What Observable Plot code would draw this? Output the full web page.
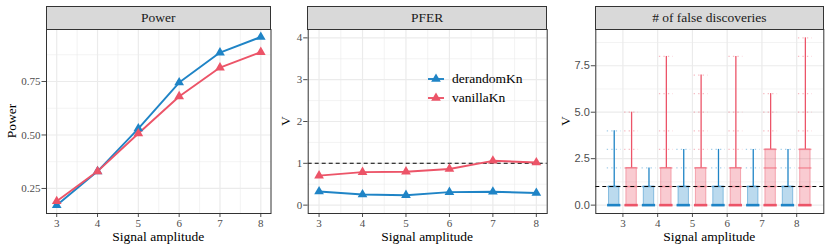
<!DOCTYPE html>
<html><head><meta charset="utf-8">
<script src="https://cdn.jsdelivr.net/npm/d3@7"></script>
<script src="https://cdn.jsdelivr.net/npm/@observablehq/plot@0.6"></script>
<style>
body{margin:0;background:#fff;}
#wrap{position:relative;width:830px;height:249px;overflow:hidden;font-family:'Liberation Serif','Tinos','Times New Roman','Nimbus Roman','DejaVu Serif',serif;}
.pn{position:absolute;top:0;}
.strip{position:absolute;box-sizing:border-box;border:1px solid #333;background:#D9D9D9;color:#1A1A1A;font-size:13.5px;text-align:center;}
.xt{position:absolute;font-size:13.5px;color:#000;text-align:center;white-space:nowrap;}
.yt{position:absolute;font-size:13.5px;color:#000;white-space:nowrap;transform:translate(-50%,-50%) rotate(-90deg);}
.leg{position:absolute;font-size:13.5px;color:#000;}
</style></head><body><div id="wrap"></div>
<script>
// ---------- data ----------
const amplitudes = [3, 4, 5, 6, 7, 8];
const methods = ["derandomKn", "vanillaKn"];
const panelTitles = ["Power", "PFER", "# of false discoveries"];
const xTitle = "Signal amplitude";
const yTitles = ["Power", "V", "V"];

const powerDerandom = [0.172, 0.33, 0.53, 0.745, 0.885, 0.958];
const powerVanilla  = [0.19, 0.33, 0.507, 0.68, 0.815, 0.887];
const pferDerandom  = [0.325, 0.254, 0.238, 0.31, 0.32, 0.29];
const pferVanilla   = [0.705, 0.79, 0.80, 0.865, 1.06, 1.02];
const pferTarget = 1;

// false discoveries: box summaries per amplitude
const fdQ1Derandom  = [0, 0, 0, 0, 0, 0];
const fdMedDerandom = [0, 0, 0, 0, 0, 0];
const fdQ3Derandom  = [1, 1, 1, 1, 1, 1];
const fdMaxDerandom = [4, 2, 3, 3, 3, 3];
const fdQ1Vanilla   = [0, 0, 0, 0, 0, 0];
const fdMedVanilla  = [0, 0, 0, 0, 0, 0];
const fdQ3Vanilla   = [2, 2, 2, 2, 3, 3];
const fdMaxVanilla  = [5, 8, 7, 8, 6, 9];
// observed values (points) per amplitude
const fdValuesDerandom = [[0,1,2,3,4],[0,1,2],[0,1,2,3],[0,1,2,3],[0,1,2,3],[0,1,2,3]];
const fdValuesVanilla  = [[0,1,2,3,4,5],[0,1,2,3,4,6,8],[0,1,2,3,4,5,6,7],[0,1,2,3,4,5,8],[0,1,2,3,4,5,6],[0,1,2,3,4,5,6,8,9]];

// ---------- layout ----------
const colors = ["#1F84C6", "#EC5468"];
const FONT = "'Liberation Serif','Tinos','Times New Roman','Nimbus Roman','DejaVu Serif',serif";
const SANS = "'Liberation Sans',Arial,sans-serif";
const TOP = 29, BOTTOM = 213, H = 249;
const wrap = document.getElementById("wrap");

function seriesRows(a, b) {
  const rows = [];
  amplitudes.forEach((x, i) => rows.push({x, y: a[i], m: methods[0]}));
  amplitudes.forEach((x, i) => rows.push({x, y: b[i], m: methods[1]}));
  return rows;
}

function makePanel(cfg) {
  const {svgLeft, svgWidth, pLeft, pRight, xDomain, yDomain, yMajor, yMinor, xMajor, xMinor, yFmt, marks, title, ytitle, ytitleX, ySans} = cfg;
  const chart = Plot.plot({
    width: svgWidth, height: H,
    marginLeft: pLeft - svgLeft, marginRight: svgLeft + svgWidth - pRight,
    marginTop: TOP, marginBottom: H - BOTTOM,
    style: {fontFamily: FONT, fontSize: "11px", color: "#4D4D4D", background: "transparent"},
    x: {domain: xDomain, ticks: amplitudes, tickFormat: d => String(d), tickSize: 4, tickPadding: 1.5, label: null},
    y: {domain: yDomain, ticks: yMajor, tickFormat: yFmt, tickSize: 4.5, tickPadding: 1.5, label: null},
    color: {domain: methods, range: colors},
    marks: [
      Plot.ruleY(yMinor, {stroke: "#EBEBEB", strokeWidth: 0.6}),
      Plot.ruleX(xMinor, {stroke: "#EBEBEB", strokeWidth: 0.6}),
      Plot.ruleY(yMajor, {stroke: "#EBEBEB", strokeWidth: 1.2}),
      Plot.ruleX(xMajor, {stroke: "#EBEBEB", strokeWidth: 1.2}),
      ...marks,
      Plot.frame({stroke: "#333333", strokeWidth: 1})
    ]
  });
  d3.select(chart).selectAll("text").attr("font-family", FONT);
  if (ySans) {
    d3.select(chart).selectAll('g[aria-label^="y-axis"] text').attr("font-family", SANS).attr("font-size", "11px");
  }
  const d = document.createElement("div");
  d.className = "pn"; d.style.left = svgLeft + "px"; d.style.width = svgWidth + "px";
  d.appendChild(chart);
  wrap.appendChild(d);
  // strip
  const s = document.createElement("div");
  s.className = "strip";
  s.style.left = (pLeft - 0.5) + "px"; s.style.top = "6px";
  s.style.width = (pRight - pLeft + 1) + "px"; s.style.height = (TOP - 6 + 1) + "px";
  s.style.lineHeight = (TOP - 6 - 1) + "px";
  s.textContent = title;
  wrap.appendChild(s);
  // x title
  const xt = document.createElement("div");
  xt.className = "xt"; xt.textContent = xTitle;
  xt.style.left = pLeft + "px"; xt.style.width = (pRight - pLeft) + "px"; xt.style.top = "229px";
  wrap.appendChild(xt);
  // y title
  const yt = document.createElement("div");
  yt.className = "yt"; yt.textContent = ytitle;
  yt.style.left = ytitleX + "px"; yt.style.top = ((TOP + BOTTOM) / 2) + "px";
  wrap.appendChild(yt);
}

const xMinorCont = [3.5, 4.5, 5.5, 6.5, 7.5];

function lineMarks(rows) {
  return [
    Plot.line(rows, {x: "x", y: "y", stroke: "m", z: "m", strokeWidth: 1.9}),
    Plot.dot(rows, {x: "x", y: "y", fill: "m", symbol: "triangle", r: 3.6, stroke: "none"})
  ];
}

// Panel 1: Power
makePanel({
  svgLeft: 0, svgWidth: 285, pLeft: 46, pRight: 270.5,
  xDomain: [2.75, 8.25], yDomain: [0.133, 0.993],
  yMajor: [0.25, 0.5, 0.75], yMinor: [0.375, 0.625, 0.875],
  xMajor: amplitudes, xMinor: xMinorCont, yFmt: d3.format(".2f"),
  marks: lineMarks(seriesRows(powerDerandom, powerVanilla)),
  title: panelTitles[0], ytitle: yTitles[0], ytitleX: 12
});

// Panel 2: PFER
makePanel({
  svgLeft: 285, svgWidth: 275, pLeft: 307.7, pRight: 546.7,
  xDomain: [2.75, 8.25], yDomain: [-0.2, 4.2],
  yMajor: [0, 1, 2, 3, 4], yMinor: [0.5, 1.5, 2.5, 3.5],
  xMajor: amplitudes, xMinor: xMinorCont, yFmt: d => String(d),
  marks: [
    Plot.ruleY([pferTarget], {stroke: "#000", strokeWidth: 1.1, strokeDasharray: "4,3"}),
    ...lineMarks(seriesRows(pferDerandom, pferVanilla))
  ],
  title: panelTitles[1], ytitle: yTitles[1], ytitleX: 286
});

// Panel 3: boxplots
const DODGE = 0.25, HALF = 0.15;
const boxes = [];
amplitudes.forEach((x, i) => {
  boxes.push({c: x - DODGE, m: methods[0], q1: fdQ1Derandom[i], med: fdMedDerandom[i], q3: fdQ3Derandom[i], max: fdMaxDerandom[i], vals: fdValuesDerandom[i]});
  boxes.push({c: x + DODGE, m: methods[1], q1: fdQ1Vanilla[i], med: fdMedVanilla[i], q3: fdQ3Vanilla[i], max: fdMaxVanilla[i], vals: fdValuesVanilla[i]});
});
const pts = boxes.flatMap(b => b.vals.map(v => ({c: b.c, m: b.m, v, inner: v <= b.q3})));

makePanel({
  svgLeft: 560, svgWidth: 270, pLeft: 595.3, pRight: 823.3,
  xDomain: [2.22, 8.78], yDomain: [-0.45, 9.45],
  yMajor: [0, 2.5, 5, 7.5], yMinor: [1.25, 3.75, 6.25, 8.75],
  xMajor: amplitudes, xMinor: [], yFmt: d3.format(".1f"), ySans: true,
  marks: [
    Plot.rect(boxes, {x1: d => d.c - HALF, x2: d => d.c + HALF, y1: "q1", y2: "q3", fill: "m", fillOpacity: 0.3, stroke: "m", strokeOpacity: 0.45, strokeWidth: 1}),
    Plot.ruleX(boxes, {x: "c", y1: "q3", y2: "max", stroke: "m", strokeWidth: 1.3}),
    Plot.ruleY(pts.filter(p => !p.inner), {y: "v", x1: d => d.c - 0.2, x2: d => d.c + 0.2, stroke: "m", strokeOpacity: 0.4, strokeWidth: 1.3, strokeDasharray: "1.3,3.2"}),
    Plot.ruleY(pts.filter(p => p.inner), {y: "v", x1: d => d.c - 0.19, x2: d => d.c + 0.19, stroke: "m", strokeOpacity: 0.55, strokeWidth: 1.4}),
    Plot.ruleY(boxes, {y: "med", x1: d => d.c - HALF - 0.04, x2: d => d.c + HALF + 0.04, stroke: "m", strokeWidth: 2.6}),
    Plot.ruleY([pferTarget], {stroke: "#000", strokeWidth: 1.1, strokeDasharray: "4,3"})
  ],
  title: panelTitles[2], ytitle: yTitles[2], ytitleX: 566
});

// legend inside PFER panel
methods.forEach((m, i) => {
  const y = 79 + i * 19;
  const sv = d3.create("svg").attr("width", 20).attr("height", 14)
    .style("position", "absolute").style("left", "427px").style("top", (y - 7) + "px");
  sv.append("line").attr("x1", 1).attr("x2", 17).attr("y1", 7).attr("y2", 7).attr("stroke", colors[i]).attr("stroke-width", 1.9);
  sv.append("path").attr("d", d3.symbol(d3.symbolTriangle, Math.PI * 3.6 * 3.6)()).attr("transform", "translate(9,7)").attr("fill", colors[i]);
  wrap.appendChild(sv.node());
  const t = document.createElement("div");
  t.className = "leg"; t.textContent = m;
  t.style.left = "452px"; t.style.top = (y - 9) + "px"; t.style.lineHeight = "18px";
  wrap.appendChild(t);
});
</script></body></html>
